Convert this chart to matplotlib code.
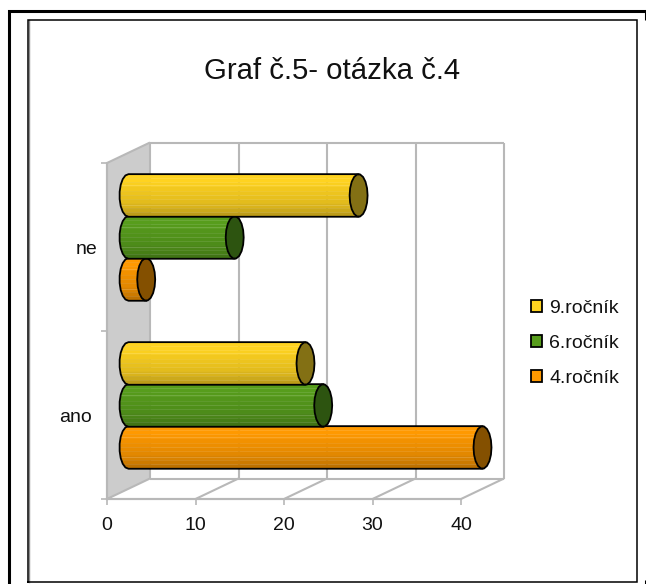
import numpy as np
import matplotlib
matplotlib.use("Agg")
import matplotlib.pyplot as plt
from matplotlib.lines import Line2D
from matplotlib.patches import Patch, Polygon

plt.rcParams['font.family'] = ['Liberation Sans', 'DejaVu Sans']

TITLE = "Graf č.5- otázka č.4"
categories = ["ano", "ne"]
series_names = ["4.ročník", "6.ročník", "9.ročník"]
values_4 = [40, 2]
values_6 = [22, 12]
values_9 = [20, 26]
x_ticks = [0, 10, 20, 30, 40]

colors = ["#FF9900", "#579D1C", "#FFD320"]
caps = ["#845000", "#2D5410", "#837014"]
GRID = "#B8B8B8"
WALL = "#CCCCCC"

W, H = 646, 584
fig = plt.figure(figsize=(W / 100, H / 100), dpi=100, facecolor="white")
L, R, T, B = 107, 461, 163, 499
ax = fig.add_axes([L / W, 1 - B / H, (R - L) / W, (B - T) / H])
ax.set_xlim(0, 40)
ax.set_ylim(0, 2)
ax.patch.set_visible(False)

ux = (R - L) / 40
uy = (B - T) / 2
dx, dy = 43 / ux, 20.5 / uy  # depth offset of the back wall


def px_line(xs, ys, **kw):
    fig.add_artist(Line2D([x / W for x in xs], [1 - y / H for y in ys],
                          transform=fig.transFigure, **kw))


# frames
px_line([9, 9, 645.5, 645.5], [584, 11, 11, 20], color="black", lw=2.2,
        solid_joinstyle="miter", solid_capstyle="butt")
px_line([645.5, 645.5], [580, 584], color="black", lw=2.2, solid_capstyle="butt")
px_line([28.5, 28.5], [20, 582], color="#8C8C8C", lw=1.0)
px_line([27.5, 27.5, 636.5, 636.5, 27.5], [582, 19.5, 19.5, 581.5, 581.5],
        color="black", lw=1.1, solid_joinstyle="miter")

# walls and grid
ax.add_patch(Polygon([(0, 0), (dx, dy), (dx, 2 + dy), (0, 2)], closed=True,
                     fc=WALL, ec="none", clip_on=False, zorder=1))
g = dict(color=GRID, lw=1.5, clip_on=False, zorder=2, solid_capstyle="butt")
for t in x_ticks:
    ax.plot([t, t + dx], [0, dy], **g)
    ax.plot([t + dx, t + dx], [dy, 2 + dy], **g)
ax.plot([dx, 40 + dx], [dy, dy], **g)
ax.plot([dx, 40 + dx], [2 + dy, 2 + dy], **g)
ax.plot([0, 40], [0, 0], **g)
ax.plot([0, dx], [2, 2 + dy], **g)
ax.plot([0, 0], [0, 2], **g)

# cylinders
a, b = 9 / ux, 21.3 / uy
shades = [1.0, 1.0, 0.98, 0.95, 0.93, 0.91, 0.89, 0.85, 0.80, 0.74]
theta = np.linspace(0, 2 * np.pi, 19)
offsets = [-0.25, 0.0, 0.25]
all_values = [values_4, values_6, values_9]

for i in range(len(categories)):
    for s, vals in enumerate(all_values):
        yc = i + 0.5 + offsets[s] + dy / 2 - 0.7 / uy
        x0 = dx / 2
        x1 = x0 + vals[i]
        edges = np.linspace(1, -1, len(shades) + 1)
        base = np.array(matplotlib.colors.to_rgb(colors[s]))
        for k, sh in enumerate(shades):
            tt, bb = edges[k], edges[k + 1]
            xl_t = x0 - a * np.sqrt(max(0, 1 - tt ** 2))
            xl_b = x0 - a * np.sqrt(max(0, 1 - bb ** 2))
            xr_t = x1 - a * np.sqrt(max(0, 1 - tt ** 2)) * 0.5
            xr_b = x1 - a * np.sqrt(max(0, 1 - bb ** 2)) * 0.5
            ax.add_patch(Polygon(
                [(xl_t, yc + b * tt), (xr_t, yc + b * tt),
                 (xr_b, yc + b * bb), (xl_b, yc + b * bb)],
                closed=True, fc=base * sh, ec=base * sh, lw=0.2,
                clip_on=False, zorder=3 + s * 0.1))
        for hl in (0.5, -0.45):
            ax.plot([x0 - a * np.sqrt(1 - hl ** 2) * 0.9, x1 - a * 0.8],
                    [yc + b * hl] * 2, color="white", alpha=0.16, lw=0.8,
                    clip_on=False, zorder=3.05 + s * 0.1)
        # outline of the tube
        tl = np.linspace(np.pi / 2, 3 * np.pi / 2, 10)
        ax.plot(np.r_[x1, x0 + a * np.cos(tl), x1],
                np.r_[yc + b, yc + b * np.sin(tl), yc - b],
                color="black", lw=1.3, clip_on=False,
                zorder=3.06 + s * 0.1, solid_joinstyle="round")
        # end cap
        ax.add_patch(Polygon(np.c_[x1 + a * np.cos(theta), yc + b * np.sin(theta)],
                             closed=True, fc=caps[s], ec="black", lw=1.3,
                             clip_on=False, zorder=3.07 + s * 0.1))

# axes
for sp in ("top", "right"):
    ax.spines[sp].set_visible(False)
for sp in ("left", "bottom"):
    ax.spines[sp].set_color(GRID)
    ax.spines[sp].set_linewidth(1.5)
ax.set_xticks(x_ticks)
ax.set_xticklabels([str(t) for t in x_ticks], fontsize=14, color="#111111")
ax.tick_params(axis="x", length=4, width=1.2, color=GRID, pad=9)
ax.set_yticks([0, 1, 2])
ax.set_yticklabels([])
ax.tick_params(axis="y", length=4, width=1.2, color=GRID)
ax.set_yticks([0.5, 1.5], labels=categories, minor=True, fontsize=14, color="#111111")
ax.tick_params(axis="y", which="minor", length=0, pad=9)
minor_ticks = ax.yaxis.get_minor_ticks()
minor_ticks[0].set_pad(10.8)
minor_ticks[1].set_pad(7.2)

fig.text(332 / W, 1 - 71 / H, TITLE, fontsize=21.2, ha="center", va="center",
         color="#111111")

handles = [Patch(fc=colors[s], ec="black", lw=1.3) for s in (2, 1, 0)]
fig.legend(handles, [series_names[s] for s in (2, 1, 0)],
           loc="upper left", bbox_to_anchor=(531 / W, 1 - 300 / H),
           bbox_transform=fig.transFigure, frameon=False, fontsize=14,
           handlelength=0.57, handleheight=0.6, handletextpad=0.36,
           labelspacing=0.92, borderpad=0, borderaxespad=0,
           labelcolor="#111111")

fig.savefig("out.png", dpi=100, facecolor="white")
